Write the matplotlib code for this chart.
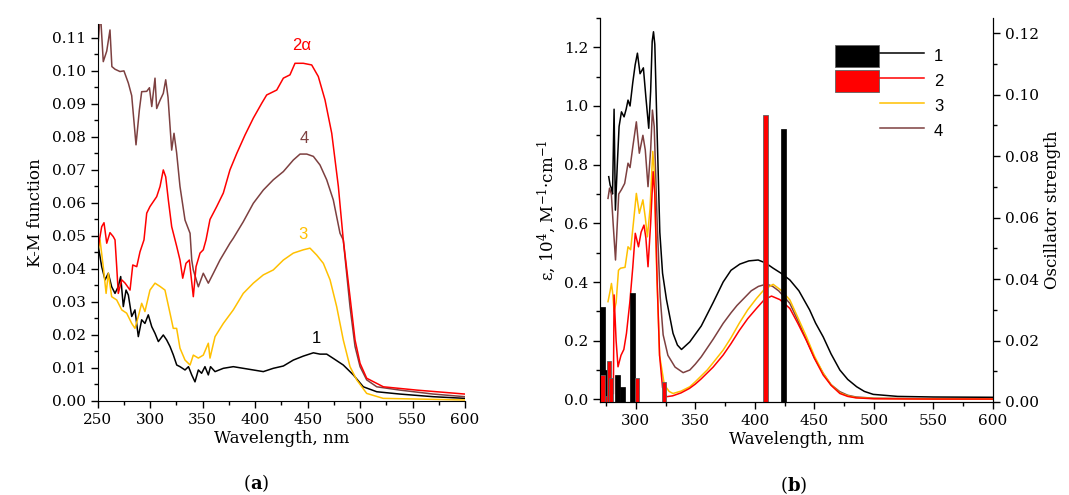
import matplotlib
matplotlib.use("Agg")
import matplotlib.pyplot as plt
from matplotlib.patches import Patch
from matplotlib.lines import Line2D
from matplotlib.legend_handler import HandlerTuple
from matplotlib.ticker import MultipleLocator

plt.rcParams['font.family'] = ['DejaVu Serif']
plt.rcParams['mathtext.fontset'] = 'dejavuserif'

RED = '#ff0000'
YELLOW = '#ffc000'
BROWN = '#7d4040'
BLACK = '#000000'

# ---- panel (a): K-M function of solids ----
km1_wl = [250.6, 253.8, 257, 260.1, 263.3, 266.5, 269.5, 271.9, 274.4, 277, 279.2, 282.4, 285.5,
          288.7, 291.9, 295, 298.2, 301.5, 304.6, 307.8, 312.5, 315.7, 318.9, 322, 325.3, 328.4,
          333.2, 336.5, 339.6, 342.7, 345.9, 349, 352.2, 355.4, 357.5, 361.8, 369.7, 379.2, 388.7,
          398.3, 407.8, 417.3, 426.9, 436.4, 445.9, 455.5, 461.8, 468.2, 474.5, 484, 493.6, 503.1,
          515.9, 538, 569.8, 600]
km1 = [0.0468, 0.0407, 0.0367, 0.0387, 0.0346, 0.0326, 0.0346, 0.0377, 0.0286, 0.0336, 0.0321,
       0.0256, 0.0276, 0.0195, 0.0246, 0.0235, 0.0261, 0.0225, 0.0205, 0.018, 0.020, 0.0185,
       0.0165, 0.014, 0.0109, 0.0104, 0.0094, 0.0104, 0.0079, 0.0058, 0.0094, 0.0084, 0.0104,
       0.0079, 0.0104, 0.0089, 0.0099, 0.0104, 0.0099, 0.0094, 0.0089, 0.0099, 0.0106, 0.0124,
       0.0136, 0.0146, 0.0142, 0.0142, 0.0129, 0.0109, 0.0079, 0.0043, 0.0028, 0.0021, 0.0013,
       0.0008]

km2_wl = [250.6, 253.8, 256, 258.6, 261.7, 264.8, 266.5, 268.1, 269.6, 272.9, 276.1, 280.8, 283.4,
          287.2, 290.3, 294.1, 296.7, 299.8, 303, 306.2, 309.4, 312.5, 314.8, 317.3, 320.5, 325.3,
          328.4, 331, 334.1, 337.3, 341.1, 343.7, 347.5, 350.6, 353.2, 357, 363.4, 369.7, 376,
          382.5, 390.4, 398.3, 406.3, 411, 420.6, 426.9, 433.2, 438, 445.9, 453.9, 460.2, 466.6,
          473, 479.3, 484, 490.4, 495.2, 500, 506.3, 522.2, 554, 600]
km2 = [0.0468, 0.0528, 0.054, 0.0478, 0.051, 0.0498, 0.0488, 0.0407, 0.0326, 0.0367, 0.0357,
       0.0336, 0.0412, 0.0407, 0.0452, 0.0488, 0.0569, 0.0589, 0.0604, 0.0619, 0.065, 0.070,
       0.0679, 0.0609, 0.0528, 0.0468, 0.0427, 0.0372, 0.0417, 0.0427, 0.0316, 0.0407, 0.0448,
       0.0458, 0.0488, 0.055, 0.0589, 0.063, 0.070, 0.075, 0.0806, 0.0857, 0.0902, 0.0927,
       0.0942, 0.0978, 0.0988, 0.1023, 0.1023, 0.1018, 0.0983, 0.0912, 0.0811, 0.065, 0.0488,
       0.0316, 0.0185, 0.0114, 0.0069, 0.0043, 0.0033, 0.0021]

km3_wl = [250.6, 252.2, 255.3, 258, 260.1, 263.3, 268.1, 272.9, 277.6, 282.4, 285.5, 288.7, 291.9,
          295, 299.8, 304.6, 309.4, 314.1, 318.9, 322, 325.2, 328.4, 333.2, 338, 341.1, 345.9,
          350.6, 355.4, 357, 361.8, 369.7, 379.2, 388.7, 398.3, 407.8, 417.3, 426.9, 436.4, 445.9,
          452.3, 458.7, 465, 471.4, 477.7, 484, 490.4, 496.8, 506.3, 522, 600]
km3 = [0.0458, 0.0488, 0.0407, 0.0326, 0.0387, 0.0316, 0.0306, 0.0276, 0.0266, 0.0235, 0.022,
       0.0256, 0.0296, 0.0271, 0.0336, 0.0357, 0.0347, 0.0336, 0.0266, 0.022, 0.022, 0.016,
       0.0124, 0.0109, 0.0139, 0.013, 0.0139, 0.0175, 0.013, 0.0195, 0.0235, 0.0276, 0.0326,
       0.0357, 0.0382, 0.0397, 0.0427, 0.0448, 0.0458, 0.0463, 0.0442, 0.0417, 0.0367, 0.0286,
       0.0185, 0.0104, 0.0064, 0.0023, 0.0008, 0.0003]

km4_wl = [250.6, 252.5, 255.3, 258.6, 261.7, 263.5, 266.5, 271.2, 275, 279.2, 282.4, 286.5, 289.7,
          291.9, 296.7, 299.3, 301.5, 304.6, 306.2, 309.4, 312.5, 314.8, 317, 320.5, 322.7, 325.2,
          328.4, 333.2, 338, 339.6, 341.1, 345.9, 350.6, 355.4, 360.2, 366.5, 376, 379.2, 388.7,
          398.3, 407.8, 417.3, 426.9, 436.4, 442.8, 449.2, 455.5, 461.8, 468.2, 474.5, 480.9,
          484, 490.4, 495.2, 500, 506.3, 515.9, 538, 569.8, 600]
km4 = [0.109, 0.118, 0.1028, 0.106, 0.1124, 0.1013, 0.1005, 0.0998, 0.100, 0.0963, 0.0925,
       0.0776, 0.0882, 0.0937, 0.0938, 0.0949, 0.0892, 0.0978, 0.0886, 0.0911, 0.0932, 0.0973,
       0.092, 0.076, 0.0811, 0.0752, 0.065, 0.0548, 0.0508, 0.0427, 0.0397, 0.0346, 0.0387,
       0.0357, 0.0387, 0.0427, 0.0478, 0.0493, 0.0543, 0.0599, 0.0639, 0.067, 0.0695, 0.073,
       0.0748, 0.0748, 0.0741, 0.0715, 0.067, 0.0609, 0.0508, 0.0488, 0.0286, 0.0165, 0.0104,
       0.0064, 0.0043, 0.0033, 0.0021, 0.0013]

# ---- panel (b): solution spectra + calculated oscillator strengths ----
eps1_wl = [277.3, 278.5, 279.5, 280.5, 281.8, 282.9, 284.5, 286, 288, 290.2, 292, 293.5, 295.2,
           297.5, 299.5, 301.4, 303.6, 305, 306.4, 308.5, 310.9, 312.5, 313.8, 314.9, 316, 318,
           320.2, 322.5, 325.8, 331.3, 335, 338.4, 345.4, 355, 365, 373.4, 380, 387.4, 395,
           402.8, 409, 415.4, 422, 429.4, 437, 446, 451, 457.4, 464, 471.4, 478, 485.5, 492,
           499.4, 520, 550, 600]
eps1 = [0.759, 0.73, 0.72, 0.70, 0.989, 0.645, 0.80, 0.93, 0.98, 0.963, 0.99, 1.02, 1.00, 1.08,
        1.14, 1.18, 1.11, 1.12, 1.13, 1.03, 0.924, 1.05, 1.22, 1.253, 1.21, 0.90, 0.57, 0.43,
        0.34, 0.225, 0.185, 0.17, 0.196, 0.25, 0.33, 0.400, 0.440, 0.461, 0.472, 0.475, 0.465,
        0.447, 0.43, 0.407, 0.37, 0.305, 0.26, 0.213, 0.155, 0.10, 0.068, 0.043, 0.027, 0.017,
        0.010, 0.008, 0.007]

eps2_wl = [281.2, 281.8, 283.5, 285.1, 287.6, 290, 292.2, 295, 297.5, 299.6, 302.3, 304.5, 306.9,
           308.5, 310.3, 312.5, 314.6, 316, 318, 320, 322.5, 325.8, 331, 338, 345, 350, 355, 360,
           365, 373.4, 380, 387, 394, 401.4, 408, 414, 421, 429.4, 436, 443.4, 450, 457.4, 464,
           471.4, 478, 485, 500, 550, 600]
eps2 = [0.02, 0.356, 0.20, 0.111, 0.15, 0.17, 0.225, 0.33, 0.45, 0.566, 0.52, 0.57, 0.594, 0.55,
        0.452, 0.60, 0.776, 0.70, 0.40, 0.15, 0.04, 0.009, 0.012, 0.022, 0.037, 0.052, 0.07, 0.09,
        0.11, 0.151, 0.19, 0.235, 0.275, 0.31, 0.34, 0.352, 0.34, 0.31, 0.26, 0.20, 0.14, 0.083,
        0.048, 0.02, 0.01, 0.005, 0.002, 0.001, 0.001]

eps3_wl = [276.7, 278.5, 279.6, 280.7, 281.8, 283.5, 285.5, 287.2, 291, 293.5, 295.7, 298, 300.5,
           303, 306, 308, 309.8, 312, 314.3, 315.5, 317.5, 320, 324, 328, 331.3, 338, 345.4, 350,
           355, 360, 365, 373.4, 380, 387, 394, 401.4, 408, 415.4, 422, 429.4, 436, 443.4, 450,
           457.4, 464, 471.4, 478, 485, 500, 550, 600]
eps3 = [0.333, 0.37, 0.395, 0.36, 0.30, 0.33, 0.44, 0.447, 0.45, 0.52, 0.51, 0.60, 0.702, 0.634,
        0.68, 0.62, 0.554, 0.65, 0.845, 0.78, 0.45, 0.15, 0.05, 0.027, 0.02, 0.028, 0.043, 0.06,
        0.08, 0.10, 0.125, 0.168, 0.21, 0.26, 0.305, 0.344, 0.375, 0.392, 0.372, 0.339, 0.28,
        0.213, 0.148, 0.089, 0.05, 0.022, 0.012, 0.006, 0.003, 0.0015, 0.001]

eps4_wl = [276.7, 278, 279.5, 281, 283, 284.5, 285.7, 288, 290.7, 293.5, 295.2, 297.5, 300.5, 303,
           306, 308, 310.3, 312.5, 314, 315.5, 318, 320.5, 323, 327, 333, 339.8, 345.4, 350, 355,
           360, 365, 373.4, 380, 385, 391, 397, 403, 409.8, 415, 420, 424, 429.4, 436, 443.4, 450,
           457.4, 464, 471.4, 478, 485, 500, 550, 600]
eps4 = [0.685, 0.72, 0.70, 0.60, 0.475, 0.60, 0.70, 0.715, 0.736, 0.805, 0.79, 0.86, 0.946, 0.839,
        0.90, 0.85, 0.725, 0.85, 0.986, 0.93, 0.60, 0.35, 0.22, 0.15, 0.11, 0.091, 0.10, 0.12,
        0.145, 0.175, 0.205, 0.259, 0.295, 0.32, 0.345, 0.37, 0.385, 0.393, 0.385, 0.37, 0.352,
        0.327, 0.27, 0.202, 0.142, 0.089, 0.05, 0.026, 0.014, 0.008, 0.004, 0.002, 0.001]

osc1_wl = [272.3, 275, 284.8, 288.7, 297.2, 424]
osc1 = [0.0308, 0.0104, 0.0087, 0.005, 0.0356, 0.0888]
osc2_wl = [272, 276.2, 277.6, 279.3, 301.1, 323.5, 409]
osc2 = [0.0088, 0.002, 0.0133, 0.0079, 0.0077, 0.0064, 0.0935]

fig = plt.figure(figsize=(10.69, 4.95), dpi=100)

# ---------- (a) ----------
ax = fig.add_axes([0.0914, 0.1899, 0.3436, 0.7616])
ax.plot(km1_wl, km1, color=BLACK, lw=1.1)
ax.plot(km3_wl, km3, color=YELLOW, lw=1.1)
ax.plot(km4_wl, km4, color=BROWN, lw=1.1)
ax.plot(km2_wl, km2, color=RED, lw=1.1)
ax.set_xlim(250, 600)
ax.set_ylim(0, 0.1142)
ax.xaxis.set_major_locator(MultipleLocator(50))
ax.xaxis.set_minor_locator(MultipleLocator(25))
ax.yaxis.set_minor_locator(MultipleLocator(0.005))
ax.set_yticks([i / 100 for i in range(12)])
ax.set_yticklabels([f"{i / 100:.2f}" for i in range(12)])
for s in ['top', 'right']:
    ax.spines[s].set_visible(False)
ax.tick_params(which='both', direction='out', labelsize=11, width=1)
ax.tick_params(which='major', length=5)
ax.tick_params(which='minor', length=3)
ax.set_xlabel("Wavelength, nm", fontsize=12, labelpad=2)
ax.set_ylabel("K-M function", fontsize=12, labelpad=6)

sans = ['Liberation Sans', 'DejaVu Sans']
ax.text(444.4, 0.1076, "2α", color=RED, fontsize=12, family=sans, ha='center', va='center')
ax.text(446.6, 0.0796, "4", color=BROWN, fontsize=12, family=sans, ha='center', va='center')
ax.text(446, 0.0503, "3", color=YELLOW, fontsize=12, family=sans, ha='center', va='center')
ax.text(458.7, 0.0190, "1", color=BLACK, fontsize=12, family=sans, ha='center', va='center')

# ---------- (b) ----------
bx = fig.add_axes([0.5613, 0.1879, 0.3676, 0.7758])
bx.plot(eps1_wl, eps1, color=BLACK, lw=1.1)
bx.plot(eps4_wl, eps4, color=BROWN, lw=1.1)
bx.plot(eps3_wl, eps3, color=YELLOW, lw=1.1)
bx.plot(eps2_wl, eps2, color=RED, lw=1.1)
bx.set_xlim(270, 600)
bx.set_ylim(-0.009, 1.30)
bx.xaxis.set_major_locator(MultipleLocator(50))
bx.xaxis.set_minor_locator(MultipleLocator(25))
bx.yaxis.set_major_locator(MultipleLocator(0.2))
bx.yaxis.set_minor_locator(MultipleLocator(0.1))
bx.yaxis.set_major_formatter(lambda v, p: f"{v:.1f}")
bx.spines['top'].set_visible(False)
bx.tick_params(which='both', direction='out', labelsize=11, width=1)
bx.tick_params(which='major', length=5)
bx.tick_params(which='minor', length=3)
bx.set_xlabel("Wavelength, nm", fontsize=12, labelpad=2)
bx.set_ylabel(r"ε, 10$^4$, M$^{-1}$·cm$^{-1}$", fontsize=12, labelpad=4)

b2 = bx.twinx()
b2.bar(osc1_wl, osc1, width=4, color=BLACK, edgecolor=BLACK, linewidth=0.5)
b2.bar(osc2_wl, osc2, width=3.6, color=RED, edgecolor='#606060', linewidth=0.6)
b2.set_ylim(0, 0.125)
b2.yaxis.set_major_locator(MultipleLocator(0.02))
b2.yaxis.set_minor_locator(MultipleLocator(0.01))
b2.yaxis.set_major_formatter(lambda v, p: f"{v:.2f}")
b2.spines['top'].set_visible(False)
b2.tick_params(which='both', direction='out', labelsize=11, width=1)
b2.tick_params(which='major', length=5)
b2.tick_params(which='minor', length=3)
b2.set_ylabel("Oscillator strength", fontsize=12, labelpad=4)

blank = Patch(facecolor='none', edgecolor='none')
handles = [
    (Patch(facecolor=BLACK, edgecolor='#606060', lw=0.6), Line2D([], [], color=BLACK, lw=1.1)),
    (Patch(facecolor=RED, edgecolor='#606060', lw=0.6), Line2D([], [], color=RED, lw=1.1)),
    (blank, Line2D([], [], color=YELLOW, lw=1.1)),
    (blank, Line2D([], [], color=BROWN, lw=1.1)),
]
leg = b2.legend(handles, ["1", "2", "3", "4"], loc='upper left',
                bbox_to_anchor=(0.578, 0.952), frameon=False, borderpad=0,
                handler_map={tuple: HandlerTuple(ndivide=None, pad=0.1)},
                handlelength=5.3, handleheight=1.7, labelspacing=0.15,
                handletextpad=0.6, prop={'family': sans, 'size': 12})

fig.text(0.240, 0.024, r"($\mathbf{a}$)", fontsize=13, ha='center', va='center')
fig.text(0.742, 0.020, r"($\mathbf{b}$)", fontsize=13, ha='center', va='center')

fig.savefig("out.png", dpi=100)
